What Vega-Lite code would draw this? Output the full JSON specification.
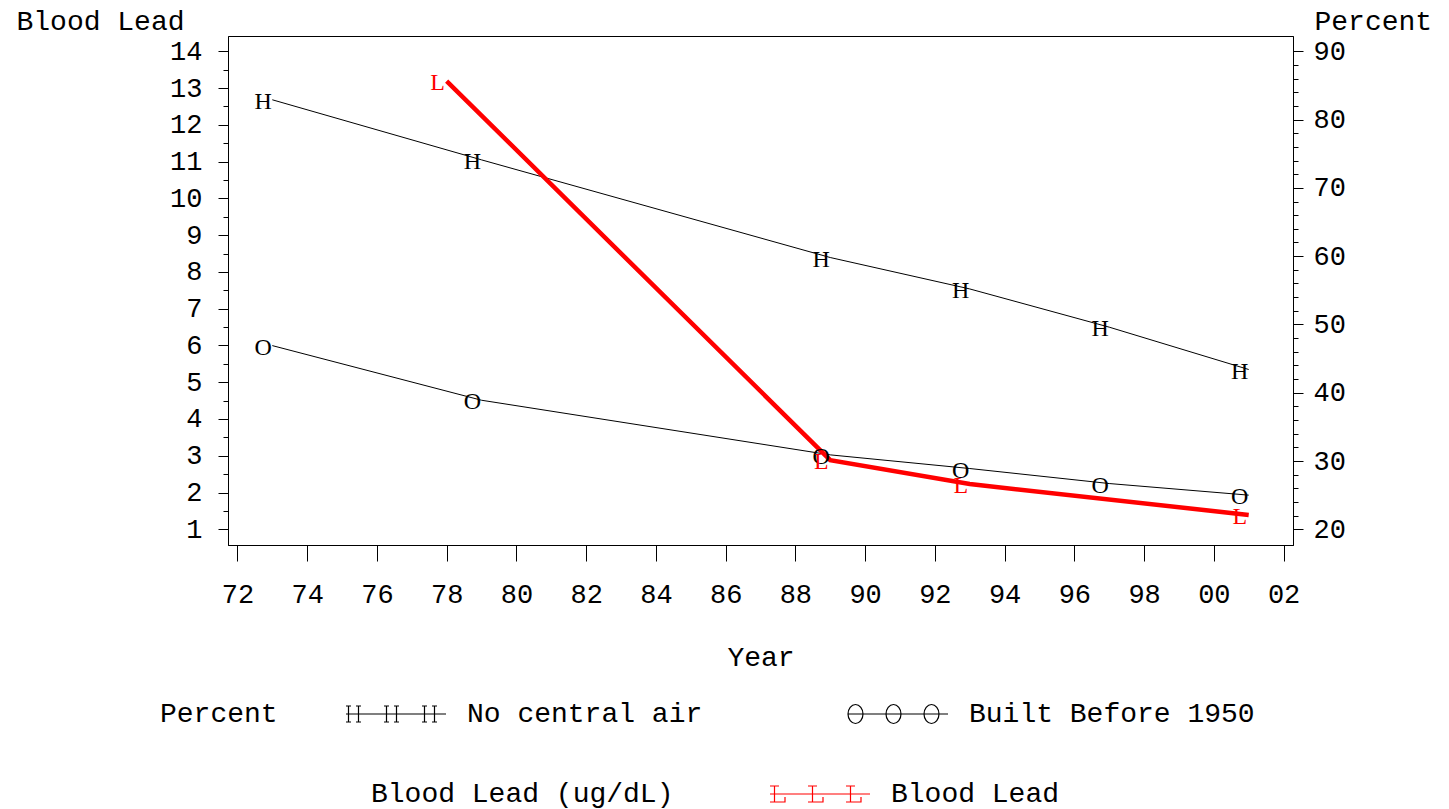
{
  "$schema": "https://vega.github.io/schema/vega-lite/v6.json",
  "autosize": {"type": "none"},
  "padding": {"left": 228, "top": 36, "right": 156, "bottom": 264},
  "width": 1065,
  "height": 509,
  "datasets": {
    "pct": [
      {"year": 1973, "series": "No central air", "sym": "H", "pct": 82.9},
      {"year": 1979, "series": "No central air", "sym": "H", "pct": 74.1},
      {"year": 1989, "series": "No central air", "sym": "H", "pct": 59.8},
      {"year": 1993, "series": "No central air", "sym": "H", "pct": 55.2},
      {"year": 1997, "series": "No central air", "sym": "H", "pct": 49.6},
      {"year": 2001, "series": "No central air", "sym": "H", "pct": 43.4},
      {"year": 1973, "series": "Built Before 1950", "sym": "O", "pct": 46.9},
      {"year": 1979, "series": "Built Before 1950", "sym": "O", "pct": 38.9},
      {"year": 1989, "series": "Built Before 1950", "sym": "O", "pct": 30.9},
      {"year": 1993, "series": "Built Before 1950", "sym": "O", "pct": 28.9},
      {"year": 1997, "series": "Built Before 1950", "sym": "O", "pct": 26.7},
      {"year": 2001, "series": "Built Before 1950", "sym": "O", "pct": 25.0}
    ],
    "lead": [
      {"year": 1978, "series": "Blood Lead", "sym": "L", "lead": 13.19},
      {"year": 1989, "series": "Blood Lead", "sym": "L", "lead": 2.88},
      {"year": 1993, "series": "Blood Lead", "sym": "L", "lead": 2.23},
      {"year": 2001, "series": "Blood Lead", "sym": "L", "lead": 1.39}
    ]
  },
  "encoding": {
    "x": {
      "field": "year",
      "type": "quantitative",
      "scale": {"domain": [1971.73, 2002.27], "nice": false, "zero": false},
      "axis": {
        "values": [1972, 1974, 1976, 1978, 1980, 1982, 1984, 1986, 1988, 1990, 1992, 1994, 1996, 1998, 2000, 2002],
        "labelExpr": "format(datum.value % 100, '02d')",
        "tickSize": 16,
        "labelPadding": 20,
        "labelFlush": false,
        "labelOverlap": false,
        "title": "Year",
        "titlePadding": 36
      }
    }
  },
  "layer": [
    {
      "data": {"name": "pct"},
      "mark": {"type": "line", "color": "black", "strokeWidth": 1},
      "encoding": {
        "detail": {"field": "series"},
        "y": {
          "field": "pct",
          "type": "quantitative",
          "scale": {"domain": [17.7, 92.24], "nice": false, "zero": false},
          "axis": {
            "orient": "right",
            "values": [20, 30, 40, 50, 60, 70, 80, 90],
            "tickSize": 10,
            "labelPadding": 10,
            "labelFlush": false,
            "labelOverlap": false,
            "title": "Percent",
            "titleAngle": 0,
            "titleAlign": "left",
            "titleBaseline": "alphabetic",
            "titleX": 21,
            "titleY": -7
          }
        }
      }
    },
    {
      "data": {"name": "lead"},
      "mark": {"type": "line", "color": "#ff0000", "strokeWidth": 4.5},
      "encoding": {
        "y": {
          "field": "lead",
          "type": "quantitative",
          "scale": {"domain": [0.573, 14.416], "nice": false, "zero": false},
          "axis": {
            "orient": "left",
            "values": [1, 2, 3, 4, 5, 6, 7, 8, 9, 10, 11, 12, 13, 14],
            "tickSize": 10,
            "labelPadding": 16,
            "labelFlush": false,
            "labelOverlap": false,
            "title": "Blood Lead",
            "titleAngle": 0,
            "titleAlign": "left",
            "titleBaseline": "alphabetic",
            "titleX": -212,
            "titleY": -7
          }
        }
      }
    },
    {
      "data": {"name": "pct"},
      "mark": {"type": "text", "font": "Liberation Serif", "fontSize": 24, "dx": -9, "dy": 2, "baseline": "middle", "color": "black"},
      "encoding": {
        "text": {"field": "sym"},
        "y": {
          "field": "pct",
          "type": "quantitative",
          "scale": {"domain": [17.7, 92.24], "nice": false, "zero": false},
          "axis": {
            "orient": "right",
            "values": [22, 24, 26, 28, 32, 34, 36, 38, 42, 44, 46, 48, 52, 54, 56, 58, 62, 64, 66, 68, 72, 74, 76, 78, 82, 84, 86, 88],
            "tickSize": 5,
            "labels": false,
            "domain": false,
            "title": null
          }
        }
      }
    },
    {
      "data": {"name": "lead"},
      "mark": {"type": "text", "font": "Liberation Serif", "fontSize": 24, "dx": -9, "dy": 2, "baseline": "middle", "color": "#ff0000"},
      "encoding": {
        "text": {"field": "sym"},
        "y": {
          "field": "lead",
          "type": "quantitative",
          "scale": {"domain": [0.573, 14.416], "nice": false, "zero": false},
          "axis": {
            "orient": "left",
            "values": [1.5, 2.5, 3.5, 4.5, 5.5, 6.5, 7.5, 8.5, 9.5, 10.5, 11.5, 12.5, 13.5],
            "tickSize": 5,
            "labels": false,
            "domain": false,
            "title": null
          }
        }
      }
    },
    {
      "data": {"name": "pct"},
      "mark": {"type": "point", "filled": false, "opacity": 0, "size": 10000},
      "encoding": {
        "y": {
          "field": "pct",
          "type": "quantitative",
          "scale": {"domain": [17.7, 92.24], "nice": false, "zero": false},
          "axis": null
        },
        "shape": {
          "field": "series",
          "type": "nominal",
          "scale": {
            "domain": ["No central air", "Built Before 1950"],
            "range": [
              "M-1,0H1M-0.95,-0.16V0.16M-0.75,-0.16V0.16M-1,-0.16H-0.9M-1,0.16H-0.9M-0.8,-0.16H-0.7M-0.8,0.16H-0.7M-0.19,-0.16V0.16M0.01,-0.16V0.16M-0.24,-0.16H-0.14M-0.24,0.16H-0.14M-0.04,-0.16H0.06M-0.04,0.16H0.06M0.57,-0.16V0.16M0.77,-0.16V0.16M0.52,-0.16H0.62M0.52,0.16H0.62M0.72,-0.16H0.82M0.72,0.16H0.82",
              "M-1,0H1M-1,0A0.15,0.19 0 1,0 -0.7,0A0.15,0.19 0 1,0 -1,0M-0.24,0A0.15,0.19 0 1,0 0.06,0A0.15,0.19 0 1,0 -0.24,0M0.52,0A0.15,0.19 0 1,0 0.82,0A0.15,0.19 0 1,0 0.52,0"
            ]
          },
          "legend": {
            "title": "Percent",
            "orient": "none",
            "legendX": -68,
            "legendY": 627,
            "direction": "horizontal",
            "titleOrient": "left",
            "titleAnchor": "middle",
            "titleBaseline": "line-top",
            "titleLineHeight": 36,
            "titlePadding": 67,
            "symbolSize": 10000,
            "symbolStrokeColor": "black",
            "symbolFillColor": "transparent",
            "symbolOpacity": 1,
            "symbolStrokeWidth": 1.2,
            "labelOffset": 20,
            "columnPadding": 142,
            "padding": 0
          }
        }
      }
    },
    {
      "data": {"name": "lead"},
      "mark": {"type": "point", "filled": false, "opacity": 0, "size": 10000},
      "encoding": {
        "y": {
          "field": "lead",
          "type": "quantitative",
          "scale": {"domain": [0.573, 14.416], "nice": false, "zero": false},
          "axis": null
        },
        "shape": {
          "field": "series",
          "type": "nominal",
          "scale": {
            "domain": ["Blood Lead"],
            "range": [
              "M-1,0H1M-0.91,-0.16V0.16M-1,-0.16H-0.82M-1,0.16H-0.7V0.06M-0.15,-0.16V0.16M-0.24,-0.16H-0.06M-0.24,0.16H0.06V0.06M0.61,-0.16V0.16M0.52,-0.16H0.7M0.52,0.16H0.82V0.06"
            ]
          },
          "legend": {
            "title": "Blood Lead (ug/dL)",
            "orient": "none",
            "legendX": 143,
            "legendY": 707,
            "direction": "horizontal",
            "titleOrient": "left",
            "titleAnchor": "middle",
            "titleBaseline": "line-top",
            "titleLineHeight": 36,
            "titlePadding": 95,
            "symbolSize": 10000,
            "symbolStrokeColor": "#ff0000",
            "symbolFillColor": "transparent",
            "symbolOpacity": 1,
            "symbolStrokeWidth": 1.2,
            "labelOffset": 20,
            "padding": 0
          }
        }
      }
    }
  ],
  "resolve": {"scale": {"y": "independent", "shape": "independent"}},
  "config": {
    "view": {"stroke": "black", "strokeWidth": 1},
    "axis": {
      "grid": false,
      "domainColor": "black",
      "domainWidth": 1,
      "tickColor": "black",
      "tickWidth": 1,
      "labelColor": "black",
      "labelFont": "Liberation Mono",
      "labelFontSize": 27,
      "titleColor": "black",
      "titleFont": "Liberation Mono",
      "titleFontSize": 28,
      "titleFontWeight": "normal"
    },
    "legend": {
      "labelFont": "Liberation Mono",
      "labelFontSize": 28,
      "labelColor": "black",
      "labelLimit": 1000,
      "titleFont": "Liberation Mono",
      "titleFontSize": 28,
      "titleFontWeight": "normal",
      "titleColor": "black",
      "titleLimit": 1000
    }
  }
}
